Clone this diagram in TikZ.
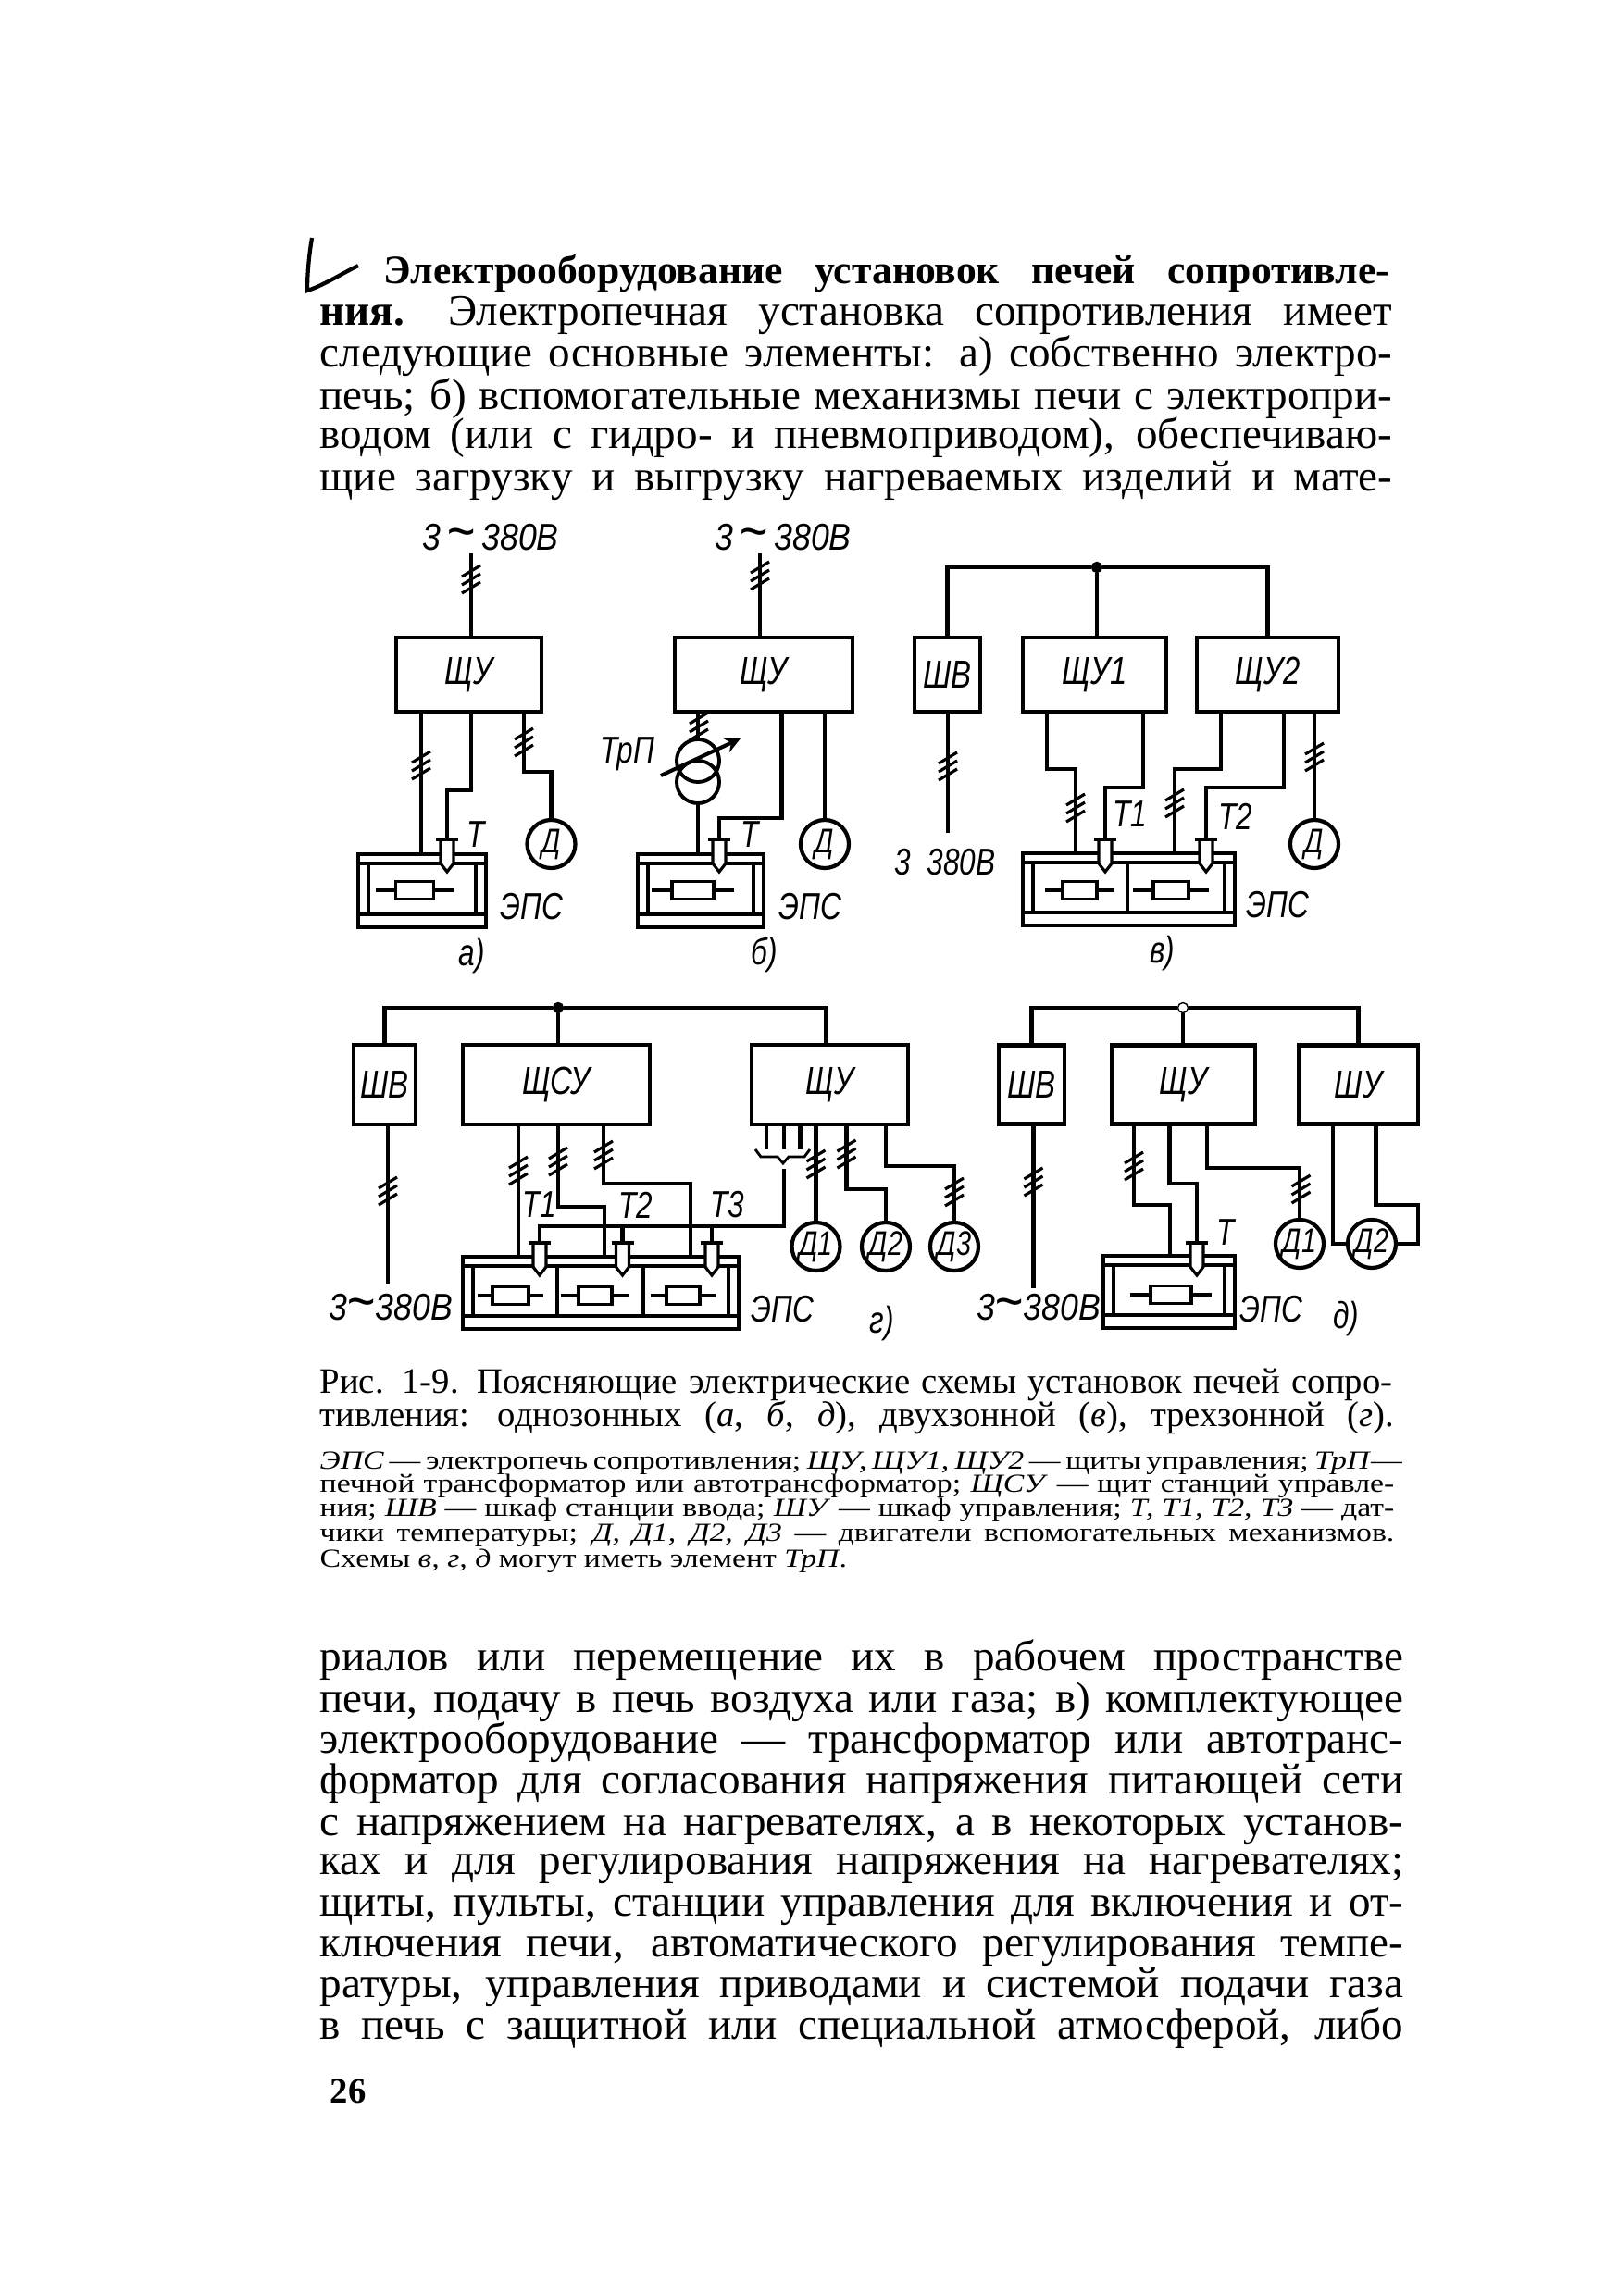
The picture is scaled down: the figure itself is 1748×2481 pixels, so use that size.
\documentclass[tikz,border=0pt]{standalone}
\usepackage{fontspec}
\setmainfont{Liberation Serif}
\newfontfamily\drawfont[FakeStretch=0.78]{Liberation Sans}
\newfontfamily\supplyfont[FakeStretch=0.88]{Liberation Sans}
\newfontfamily\notefont[FakeStretch=1.2]{Liberation Serif}
\usetikzlibrary{calc,arrows}

\newcommand{\bodysize}{\fontsize{13.4}{15}\selectfont}
\newcommand{\headsize}{\fontsize{12.4}{15}\selectfont}
\newcommand{\capsize}{\fontsize{11}{13}\selectfont}
\newcommand{\smallsize}{\notefont\fontsize{8}{9}\selectfont}
\newcommand{\tld}{{\fontsize{17}{13}\selectfont\char"007E}}

\tikzset{
    wire/.style={line width=1.15pt},
    ctrlbox/.style={draw, line width=1.3pt, inner sep=0pt, font=\drawfont\itshape\fontsize{12}{14}\selectfont},
    motor/.style={draw, circle, line width=1.2pt, minimum size=.52cm, inner sep=0pt, font=\drawfont\itshape\fontsize{10.5}{12}\selectfont},
    lbl/.style={inner sep=0pt, font=\drawfont\itshape\fontsize{11.5}{13}\selectfont},
    supply/.style={inner sep=0pt, font=\supplyfont\itshape\fontsize{11.5}{13}\selectfont},
    junction/.style={circle, fill=black, draw, inner sep=0pt, minimum size=.11cm},
    textline/.style={anchor=base west, inner sep=0pt}
}

% furnace: name, x1, y1, x2, y2
\newcommand{\furnace}[5]{
    \node[draw, line width=1.1pt, inner sep=0pt, minimum width={(#4-#2)*0.01cm}, minimum height={(#5-#3)*0.01cm}] (#1) at ({(#2+#4)/2},{(#3+#5)/2}) {};
    \draw[line width=1pt] (#2,#3+10) -- (#4,#3+10);
    \draw[line width=1pt] (#2,#5-14) -- (#4,#5-14);
    \draw[line width=1pt] (#2+11,#3+10) -- (#2+11,#5-14);
    \draw[line width=1pt] (#4-11,#3+10) -- (#4-11,#5-14);
}
% heater: name, x, y, half width, lead
\newcommand{\heater}[5]{
    \node[draw, line width=1pt, inner sep=0pt, minimum width={2*#4*0.01cm}, minimum height=.19cm] (#1) at (#2,#3) {};
    \draw[line width=1pt] (#1.west) -- ++(-#5,0);
    \draw[line width=1pt] (#1.east) -- ++(#5,0);
}
% sensor: name, x, y
\newcommand{\sensor}[3]{
    \coordinate (#1) at (#2,#3);
    \draw[fill=white, line width=.9pt] (#2-7,#3) -- (#2+7,#3) -- (#2+7,#3+26) -- (#2,#3+35) -- (#2-7,#3+26) -- cycle;
    \draw[line width=1.3pt] (#2-12,#3) -- (#2+12,#3);
}
\newcommand{\slashes}[2]{
    \foreach \d in {-9,0,9} {
        \draw[line width=.9pt] (#1-10,#2+\d+6) -- (#1+10,#2+\d-6);
    }
}

\begin{document}
\begin{tikzpicture}[x=0.01cm,y=-0.01cm]

    \useasboundingbox[fill=white] (0,0) rectangle (1748,2481);

    % Top text
    \node[textline, font=\headsize\bfseries] (head) at (414,306) {\hbox to 10.86cm{Электрооборудование \ установок \ печей \ сопротивле-}};
    \foreach \n/\yy/\txt in {
        b/351/{\textbf{ния.} \ Электропечная \ установка \ сопротивления \ имеет},
        c/396/{следующие основные элементы: а) собственно электро-},
        d/442/{печь; б) вспомогательные механизмы печи с электропри-},
        e/484/{водом (или с гидро- и пневмоприводом), обеспечиваю-},
        f/530/{щие загрузку и выгрузку нагреваемых изделий и мате-}} {
        \node[textline, font=\bodysize] (top\n) at (345,\yy) {\hbox to 11.58cm{\txt}};
    }
    \draw[line width=1.2pt] (337,257) .. controls (334,275) and (332,295) .. (332,314) .. controls (350,308) and (365,298) .. (387,287);

    % Scheme a
    \node[supply] (suppa) at (530,581) {3\,\tld\,380В};
    \node[ctrlbox, minimum width=1.57cm, minimum height=.8cm] (sha) at (506.5,729) {ЩУ};
    \furnace{epsa}{387}{923}{525}{1002}
    \heater{ra}{448}{962}{20.5}{20}
    \sensor{ta}{483}{907}
    \node[motor] (ma) at (595.5,912) {Д};
    \coordinate (ina) at (509,598);
    \draw[wire] (ina) -- (ina |- sha.north);
    \draw[wire] ($(sha.south)+(-51.5,0)$) -- ($(epsa.north)+(-1,0)$);
    \draw[wire] ($(sha.south)+(2.5,0)$) -- ++(0,83) -| (ta);
    \draw[wire] ($(sha.south)+(59.5,0)$) -- ++(0,63) -| (ma.north);
    \slashes{509}{626}
    \slashes{455}{827}
    \slashes{566}{802}
    \node[lbl] (lta) at (514,902) {Т};
    \node[lbl] (lepsa) at (574,980) {ЭПС};
    \node[lbl] (capa) at (510,1033) {а)};

    % Scheme b
    \node[supply] (suppb) at (846,581) {3\,\tld\,380В};
    \node[ctrlbox, minimum width=1.92cm, minimum height=.8cm] (shb) at (825,729) {ЩУ};
    \furnace{epsb}{689}{923}{825}{1002}
    \heater{rb}{748.5}{962}{22.5}{20}
    \sensor{tb}{777}{907}
    \node[motor] (mb) at (891,912) {Д};
    \node[draw, circle, line width=1.1pt, minimum size=.46cm, inner sep=0pt] (tu) at (754,822) {};
    \node[draw, circle, line width=1.1pt, minimum size=.46cm, inner sep=0pt] (tl) at (754,845) {};
    \coordinate (inb) at (821,598);
    \draw[wire] (inb) -- (inb |- shb.north);
    \draw[wire] ($(shb.south)+(-71,0)$) -- (tu.north);
    \draw[wire] (tl.south) -- ($(epsb.north)+(-3,0)$);
    \draw[wire] ($(shb.south)+(19.5,0)$) -- ++(0,113) -| (tb);
    \draw[wire] ($(shb.south)+(66,0)$) -- (mb.north);
    \draw[wire, -stealth] (714,838) -- (800,798);
    \slashes{821}{622}
    \slashes{755}{785}
    \node[lbl] (ltrp) at (678,815) {ТрП};
    \node[lbl] (ltb) at (810,902) {Т};
    \node[lbl] (lepsb) at (875,980) {ЭПС};
    \node[lbl] (capb) at (826,1032) {б)};

    % Scheme v
    \node[junction] (dotc) at (1185,613) {};
    \node[ctrlbox, minimum width=.71cm, minimum height=.8cm] (shvc) at (1023.5,729) {ШВ};
    \node[ctrlbox, minimum width=1.55cm, minimum height=.8cm] (shc1) at (1182.5,729) {ЩУ1};
    \node[ctrlbox, minimum width=1.53cm, minimum height=.8cm] (shc2) at (1369.5,729) {ЩУ2};
    \furnace{epsc}{1105}{922}{1334}{1000}
    \draw[line width=1pt] (1218,933) -- (1218,986);
    \heater{rc1}{1166.5}{962}{18.5}{17}
    \heater{rc2}{1265}{962}{19}{20}
    \sensor{tc1}{1194}{907}
    \sensor{tc2}{1303}{907}
    \node[motor] (mc) at (1420,912) {Д};
    \coordinate (outc) at (1024,900);
    \draw[wire] (shvc.north) |- (dotc) -| (shc2.north);
    \draw[wire] (dotc) -- (dotc |- shc1.north);
    \draw[wire] (outc |- shvc.south) -- (outc);
    \draw[wire] ($(shc1.south)+(-51.5,0)$) -- ++(0,60) -| ($(epsc.north)+(-57.5,0)$);
    \draw[wire] ($(shc1.south)+(52.5,0)$) -- ++(0,80) -| (tc1);
    \draw[wire] ($(shc2.south)+(-50.5,0)$) -- ++(0,60) -| ($(epsc.north)+(49.5,0)$);
    \draw[wire] ($(shc2.south)+(17.5,0)$) -- ++(0,80) -| (tc2);
    \draw[wire] ($(shc2.south)+(50.5,0)$) -- (mc.north);
    \slashes{1024}{828}
    \slashes{1162}{873}
    \slashes{1269}{868}
    \slashes{1420}{818}
    \node[lbl] (lsupc) at (1021,932) {3 \ 380В};
    \node[lbl] (ltc1) at (1221,880) {Т1};
    \node[lbl] (ltc2) at (1335,882) {Т2};
    \node[lbl] (lepsc) at (1380,978) {ЭПС};
    \node[lbl] (capc) at (1256,1030) {в)};

    % Scheme g
    \node[junction] (dotg) at (603,1089) {};
    \node[ctrlbox, minimum width=.67cm, minimum height=.86cm] (shvg) at (415.5,1172) {ШВ};
    \node[ctrlbox, minimum width=2.02cm, minimum height=.86cm] (shsg) at (601,1172) {ЩСУ};
    \node[ctrlbox, minimum width=1.69cm, minimum height=.86cm] (shug) at (896.5,1172) {ЩУ};
    \furnace{epsg}{500}{1358}{798}{1436}
    \draw[line width=1pt] (602,1368) -- (602,1422) (695,1368) -- (695,1422);
    \heater{rg1}{551.5}{1400}{19.5}{14}
    \heater{rg2}{643}{1400}{18}{17}
    \heater{rg3}{738}{1400}{18}{15}
    \sensor{tg1}{583}{1343}
    \sensor{tg2}{672.5}{1343}
    \sensor{tg3}{769}{1343}
    \node[motor] (mg1) at (881.5,1347) {Д1};
    \node[motor] (mg2) at (957,1347) {Д2};
    \node[motor] (mg3) at (1031,1347) {Д3};
    \coordinate (outg) at (419,1387);
    \coordinate (brc) at (847,1263);
    \draw[wire] (shvg.north) |- (dotg) -| ($(shug.north)+(-4,0)$);
    \draw[wire] (dotg) -- (dotg |- shsg.north);
    \draw[wire] (outg |- shvg.south) -- (outg);
    \draw[wire] ($(shsg.south)+(-41,0)$) -- ($(epsg.north)+(-89,0)$);
    \draw[wire] ($(shsg.south)+(2,0)$) -- ++(0,87) -| ($(epsg.north)+(4,0)$);
    \draw[wire] ($(shsg.south)+(51,0)$) -- ++(0,62) -| ($(epsg.north)+(97,0)$);
    \foreach \dx in {-68.5,-49.5,-32} {
        \draw[wire] ($(shug.south)+(\dx,0)$) -- ++(0,25);
    }
    \draw[line width=.8pt] (816,1242) -- (822,1250) -- (840,1250) -- (846,1257) -- (852,1250) -- (869,1250) -- (875,1242);
    \draw[wire] (brc) |- ($(tg1)+(0,-18)$) -- (tg1);
    \draw[wire] (tg2) -- ++(0,-18);
    \draw[wire] (tg3) -- ++(0,-18);
    \draw[wire] ($(shug.south)+(-15,0)$) -- (mg1.north);
    \draw[wire] ($(shug.south)+(18,0)$) -- ++(0,68) -| (mg2.north);
    \draw[wire] ($(shug.south)+(60.5,0)$) -- ++(0,43) -| (mg3.north);
    \slashes{419}{1287}
    \slashes{560}{1265}
    \slashes{603}{1255}
    \slashes{652}{1248}
    \slashes{881.5}{1258}
    \slashes{914.5}{1247}
    \slashes{1031}{1288}
    \node[supply] (lsupg) at (422,1413) {3\tld 380В};
    \node[lbl] (ltg1) at (583,1302) {Т1};
    \node[lbl] (ltg2) at (687,1302) {Т2};
    \node[lbl] (ltg3) at (786,1302) {Т3};
    \node[lbl] (lepsg) at (845,1415) {ЭПС};
    \node[lbl] (capg) at (953,1430) {г)};

    % Scheme d
    \node[junction, fill=white] (dotd) at (1278,1089) {};
    \node[ctrlbox, minimum width=.71cm, minimum height=.85cm] (shvd) at (1114.5,1172) {ШВ};
    \node[ctrlbox, minimum width=1.55cm, minimum height=.85cm] (shud) at (1278.5,1172) {ЩУ};
    \node[ctrlbox, minimum width=1.29cm, minimum height=.85cm] (shwd) at (1467.5,1172) {ШУ};
    \furnace{epsd}{1192}{1357}{1334}{1435}
    \heater{rd}{1265}{1399}{22}{20}
    \sensor{td}{1293}{1343}
    \node[motor] (md1) at (1404,1344) {Д1};
    \node[motor] (md2) at (1482,1344) {Д2};
    \coordinate (outd) at (1116.5,1392);
    \draw[wire] (shvd.north) |- (dotd) -| (shwd.north);
    \draw[wire] (dotd) -- (dotd |- shud.north);
    \draw[wire] (outd |- shvd.south) -- (outd);
    \draw[wire] ($(shud.south)+(-53.5,0)$) -- ++(0,85) -| ($(epsd.north)+(1,0)$);
    \draw[wire] ($(shud.south)+(-15,0)$) -- ++(0,62) -| (td);
    \draw[wire] ($(shud.south)+(25.5,0)$) -- ++(0,45) -| (md1.north);
    \draw[wire] ($(shwd.south)+(-27.5,0)$) |- (md2.west);
    \draw[wire] ($(shwd.south)+(19,0)$) -- ++(0,85) -- ++(45.5,0) |- (md2.east);
    \slashes{1116.5}{1277}
    \slashes{1225}{1260}
    \slashes{1405.5}{1285}
    \node[supply] (lsupd) at (1122,1413) {3\tld 380В};
    \node[lbl] (ltd) at (1324.5,1332) {Т};
    \node[lbl] (lepsd) at (1373,1415) {ЭПС};
    \node[lbl] (capd) at (1454,1425) {д)};

    % Caption
    \node[textline, font=\capsize] (capa1) at (345,1505) {\hbox to 11.58cm{Рис. 1-9. Поясняющие электрические схемы установок печей сопро-}};
    \node[textline, font=\capsize] (capa2) at (345,1541) {\hbox to 11.6cm{тивления: \ однозонных \ (\emph{а}, \ \emph{б}, \ \emph{д}), \ двухзонной \ (\emph{в}), \ трехзонной \ (\emph{г}).}};
    \foreach \n/\yy/\txt in {
        a/1587/{\emph{ЭПС} — электропечь сопротивления; \emph{ЩУ, ЩУ1, ЩУ2} — щиты управления; \emph{ТрП}—},
        b/1612/{печной трансформатор или автотрансформатор; \emph{ЩСУ} — щит станций управле-},
        c/1638/{ния; \emph{ШВ} — шкаф станции ввода; \emph{ШУ} — шкаф управления; \emph{Т, Т1, Т2, Т3} — дат-},
        d/1665/{чики температуры; \emph{Д, Д1, Д2, Д3} — двигатели вспомогательных механизмов.}} {
        \node[textline, font=\smallsize] (note\n) at (345,\yy) {\hbox to 11.6cm{\txt}};
    }
    \node[textline, font=\smallsize] (notee) at (345,1693) {Схемы \emph{в, г, д} могут иметь элемент \emph{ТрП}.};

    % Bottom text
    \foreach \n/\yy/\txt in {
        a/1805/{риалов или перемещение их в рабочем пространстве},
        b/1850/{печи, подачу в печь воздуха или газа; в) комплектующее},
        c/1894/{электрооборудование — трансформатор или автотранс-},
        d/1938/{форматор для согласования напряжения питающей сети},
        e/1983/{с напряжением на нагревателях, а в некоторых установ-},
        f/2025/{ках и для регулирования напряжения на нагревателях;},
        g/2070/{щиты, пульты, станции управления для включения и от-},
        h/2114/{ключения печи, автоматического регулирования темпе-},
        i/2158/{ратуры, управления приводами и системой подачи газа},
        j/2203/{в печь с защитной или специальной атмосферой, либо}} {
        \node[textline, font=\bodysize] (bot\n) at (345,\yy) {\hbox to 11.7cm{\txt}};
    }
    \node[textline, font=\capsize\bfseries] (pageno) at (356,2272) {26};

\end{tikzpicture}
\end{document}
